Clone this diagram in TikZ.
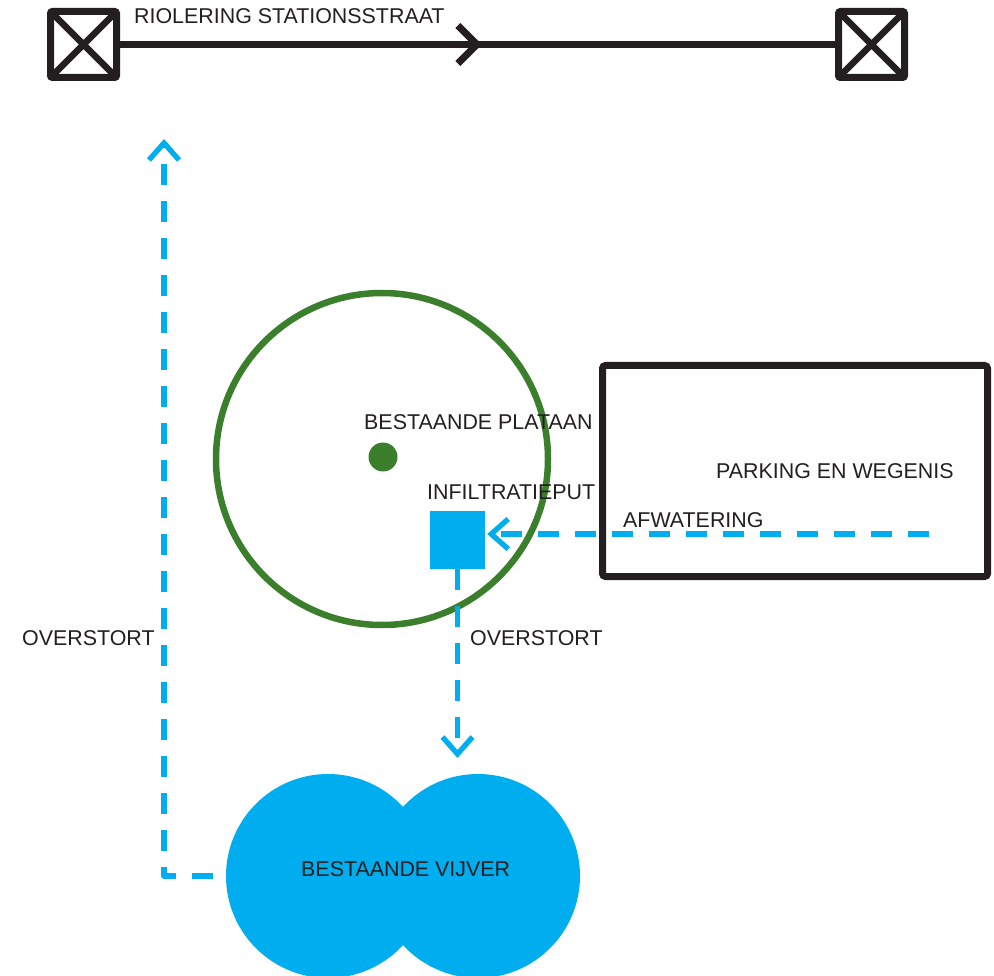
\documentclass[tikz,border=0pt]{standalone}
\usepackage{fontspec}
\setmainfont{Liberation Sans}
\usetikzlibrary{arrows.meta,decorations.markings}
\definecolor{ink}{HTML}{231F20}
\definecolor{tree}{HTML}{3B7F2D}
\definecolor{water}{HTML}{00AEEF}
\begin{document}
\begin{tikzpicture}[x=1pt,y=-1pt,
  lbl/.style={anchor=base west,inner sep=0pt,text=ink,font=\fontsize{21.4}{25}\selectfont},
  manhole/.style={draw=ink,line width=7pt,rounded corners=2pt,minimum size=66pt,inner sep=0pt,
    path picture={\draw[ink,line width=6.5pt]
      (path picture bounding box.north west) -- (path picture bounding box.south east)
      (path picture bounding box.north east) -- (path picture bounding box.south west);}},
  flow/.style={water,line width=5.3pt,line join=round,dash pattern=on 21pt off 16pt,
    -{Straight Barb[length=17pt,width=30pt,line width=5.3pt]}},
  pipe/.style={ink,line width=7pt},
  pondlobe/.style={circle,fill=water,minimum size=204pt,inner sep=0pt},
 ]
\useasboundingbox (0,0) rectangle (994,976);
% sewer
\node[manhole] (mhL) at (83.5,44.5) {};
\node[manhole] (mhR) at (871.5,44.5) {};
\draw[pipe,postaction={decorate},decoration={markings,
   mark=at position 0.506 with {\arrow[ink]{Straight Barb[length=19pt,width=38pt,line width=7pt]}}}]
  (mhL.east) -- (mhR.west);
\node[lbl] (tRiol) at (134,24) {RIOLERING STATIONSSTRAAT};
% tree
\node[circle,draw=tree,line width=6.5pt,minimum size=332pt,inner sep=0pt] (tree) at (382,459) {};
\node[circle,fill=tree,minimum size=29pt,inner sep=0pt] (dot) at (383,457) {};
\node[lbl] (tPlat) at (364,429) {BESTAANDE PLATAAN};
% parking
\node[draw=ink,line width=7pt,minimum width=385pt,minimum height=211pt,rounded corners=3pt] (park) at (795,471) {};
\node[lbl] (tPark) at (716,478) {PARKING EN WEGENIS};
% infiltratieput
\node[fill=water,minimum width=55pt,minimum height=58pt,inner sep=0pt] (sq) at (457.5,540) {};
\node[lbl] (tInf) at (427,499) {INFILTRATIEPUT};
% pond
\node[pondlobe] (vL) at (328,876) {};
\node[pondlobe] (vR) at (478,876) {};
\node[lbl] (tVij) at (301,876) {BESTAANDE VIJVER};
% flows
\coordinate (afS) at (929,534);
\draw[flow] (afS) -- ([xshift=2pt]afS -| sq.east);
\node[lbl] (tAfw) at (623,527) {AFWATERING};
\coordinate (odT) at (457.5,758);
\draw[flow] (sq.south) -- (odT);
\node[lbl] (tOv2) at (470,645) {OVERSTORT};
\coordinate (ovS) at (213,876);
\coordinate (ovT) at (164,139);
\draw[flow] (ovS) -| (ovT);
\node[lbl] (tOv1) at (22,645) {OVERSTORT};
\end{tikzpicture}
\end{document}
